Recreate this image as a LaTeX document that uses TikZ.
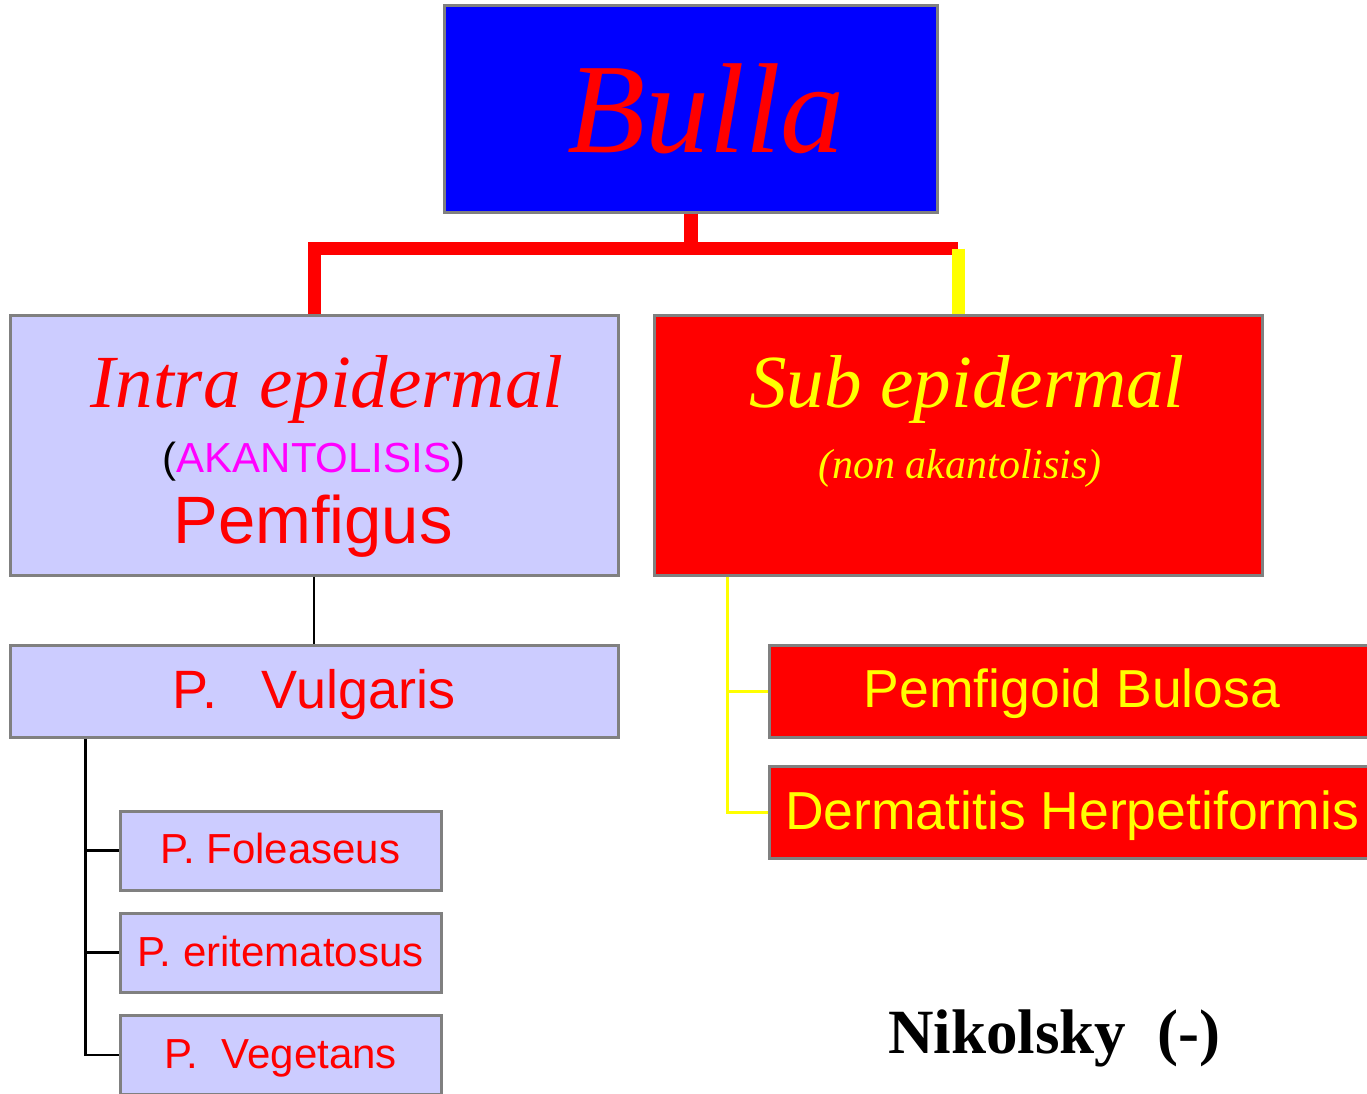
\documentclass[tikz,border=0pt]{standalone}
\usepackage{fontspec}
\setmainfont{Liberation Serif}
\setsansfont{Liberation Sans}
\usetikzlibrary{positioning,calc}
\definecolor{lavender}{HTML}{CCCCFF}
\definecolor{boxgray}{HTML}{808080}
\definecolor{akmagenta}{HTML}{FF00FF}
\definecolor{pureyellow}{HTML}{FFFF00}
\definecolor{purered}{HTML}{FF0000}
\definecolor{pureblue}{HTML}{0000FF}

\begin{document}
\begin{tikzpicture}[x=1pt,y=-1pt]
	\tikzstyle{every node}=[inner sep=0pt]
	\tikzstyle{box}=[draw=boxgray, line width=3pt, minimum width=608pt]
	\tikzstyle{pbox}=[box, fill=lavender]
	\tikzstyle{rbox}=[box, fill=purered]
	\tikzstyle{smallbox}=[box, fill=lavender, minimum width=321pt, minimum height=79pt]
	\tikzstyle{txt}=[anchor=base, font=\sffamily]
	\useasboundingbox (0,0) rectangle (1367,1094);
	% boxes
	\node at (690.5,109) [box, fill=pureblue, minimum width=493pt, minimum height=206pt] (bulla) {};
	\node at (314,445) [pbox, minimum height=260pt] (intra) {};
	\node at (958,445) [rbox, minimum height=260pt] (sub) {};
	\node at (314,691) [pbox, minimum height=92pt] (vulgaris) {};
	\node at (280.5,850.5) [smallbox] (foleaseus) {};
	\node at (280.5,952.5) [smallbox] (eritem) {};
	\node at (280.5,1055) [smallbox] (vegetans) {};
	\node at (1073,691) [rbox, minimum height=92pt] (pemfigoid) {};
	\node at (1073,812.5) [rbox, minimum height=92pt] (dermatitis) {};
	% thick fork under the top box
	\draw [purered, line width=14pt] (bulla.south) -- ++(0,35) coordinate (fork);
	\draw [purered, line width=13pt] (intra.north) |- (fork) -- (fork -| sub.north);
	\draw [pureyellow, line width=13pt] (fork -| sub.north) -- (sub.north);
	% left branch
	\draw [line width=2.5pt] (intra.south) -- (vulgaris.north);
	\coordinate (trunk) at ([xshift=77pt]vulgaris.south west);
	\draw [line width=2.5pt] (trunk) |- (vegetans.west);
	\draw [line width=2.5pt] (trunk |- foleaseus.west) -- (foleaseus.west);
	\draw [line width=2.5pt] (trunk |- eritem.west) -- (eritem.west);
	% right branch
	\coordinate (strunk) at ([xshift=75pt]sub.south west);
	\draw [pureyellow, line width=3pt] (strunk) |- (dermatitis.west);
	\draw [pureyellow, line width=3pt] (strunk |- pemfigoid.west) -- (pemfigoid.west);
	% texts
	\node at (706,153) [anchor=base, purered, font=\fontsize{128}{128}\selectfont\itshape] (bullatxt) {Bulla};
	\node at (327,407) [anchor=base, purered, font=\fontsize{75}{75}\selectfont\itshape] (intratxt) {Intra epidermal};
	\node at (314,472) [txt, font=\sffamily\fontsize{42}{42}\selectfont] (akant) {(\textcolor{akmagenta}{AKANTOLISIS})};
	\node at (313,543) [txt, purered, font=\sffamily\fontsize{67}{67}\selectfont] (pemfigus) {Pemfigus};
	\node at (967,407) [anchor=base, pureyellow, font=\fontsize{75}{75}\selectfont\itshape] (subtxt) {Sub epidermal};
	\node at (960,478) [anchor=base, pureyellow, font=\fontsize{42}{42}\selectfont\itshape] (nonakant) {(non akantolisis)};
	\node at (314,708) [txt, purered, font=\sffamily\fontsize{54}{54}\selectfont] (vulgtxt) {P.\ \ \ Vulgaris};
	\node at (280.5,863) [txt, purered, font=\sffamily\fontsize{42}{42}\selectfont] (foltxt) {P. Foleaseus};
	\node at (280.5,966) [txt, purered, font=\sffamily\fontsize{42}{42}\selectfont] (eritxt) {P. eritematosus};
	\node at (280.5,1068) [txt, purered, font=\sffamily\fontsize{42}{42}\selectfont] (vegtxt) {P.\ \ Vegetans};
	\node at (1072,707) [txt, pureyellow, font=\sffamily\fontsize{53.5}{53.5}\selectfont] (pemftxt) {Pemfigoid Bulosa};
	\node at (1072,829) [txt, pureyellow, font=\sffamily\fontsize{53.5}{53.5}\selectfont] (dermtxt) {Dermatitis Herpetiformis};
	\node at (1054.5,1053) [anchor=base, font=\fontsize{63}{63}\selectfont\bfseries] (nikolsky) {Nikolsky\ \ (-)};
\end{tikzpicture}
\end{document}
